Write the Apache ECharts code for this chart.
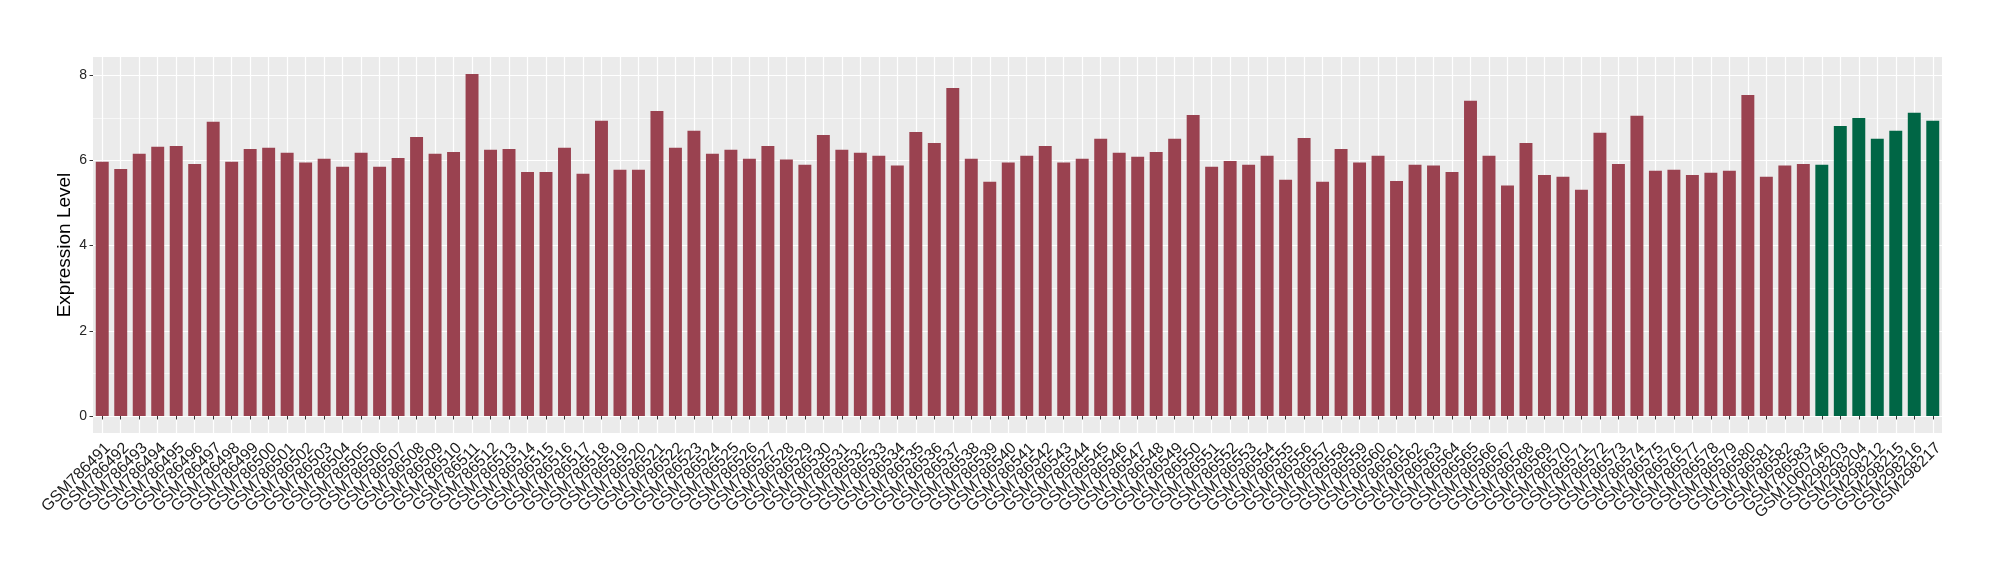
<!DOCTYPE html>
<html><head><meta charset="utf-8">
<script src="https://cdn.jsdelivr.net/npm/echarts@6/dist/echarts.min.js"></script>
<style>html,body{margin:0;padding:0;background:#fff}#c{width:2000px;height:580px}</style>
</head><body><div id="c"></div>
<script>
const redSamples = [
'GSM786491','GSM786492','GSM786493','GSM786494','GSM786495','GSM786496','GSM786497','GSM786498','GSM786499','GSM786500',
'GSM786501','GSM786502','GSM786503','GSM786504','GSM786505','GSM786506','GSM786507','GSM786508','GSM786509','GSM786510',
'GSM786511','GSM786512','GSM786513','GSM786514','GSM786515','GSM786516','GSM786517','GSM786518','GSM786519','GSM786520',
'GSM786521','GSM786522','GSM786523','GSM786524','GSM786525','GSM786526','GSM786527','GSM786528','GSM786529','GSM786530',
'GSM786531','GSM786532','GSM786533','GSM786534','GSM786535','GSM786536','GSM786537','GSM786538','GSM786539','GSM786540',
'GSM786541','GSM786542','GSM786543','GSM786544','GSM786545','GSM786546','GSM786547','GSM786548','GSM786549','GSM786550',
'GSM786551','GSM786552','GSM786553','GSM786554','GSM786555','GSM786556','GSM786557','GSM786558','GSM786559','GSM786560',
'GSM786561','GSM786562','GSM786563','GSM786564','GSM786565','GSM786566','GSM786567','GSM786568','GSM786569','GSM786570',
'GSM786571','GSM786572','GSM786573','GSM786574','GSM786575','GSM786576','GSM786577','GSM786578','GSM786579','GSM786580',
'GSM786581','GSM786582','GSM786583'];
const greenSamples = ['GSM1060746','GSM298203','GSM298204','GSM298212','GSM298215','GSM298216','GSM298217'];

const redValues = [
5.97,5.80,6.16,6.32,6.34,5.92,6.91,5.97,6.27,6.30,
6.18,5.95,6.04,5.85,6.18,5.85,6.06,6.55,6.16,6.20,
8.03,6.25,6.27,5.73,5.73,6.30,5.69,6.93,5.78,5.78,
7.16,6.30,6.70,6.16,6.25,6.04,6.34,6.02,5.90,6.60,
6.25,6.18,6.11,5.88,6.67,6.41,7.70,6.04,5.50,5.95,
6.11,6.34,5.95,6.04,6.51,6.18,6.09,6.20,6.51,7.07,
5.85,5.99,5.90,6.11,5.55,6.53,5.50,6.27,5.95,6.11,
5.52,5.90,5.88,5.73,7.40,6.11,5.41,6.41,5.66,5.62,
5.31,6.65,5.92,7.05,5.76,5.78,5.66,5.71,5.76,7.54,
5.62,5.88,5.92];
const greenValues = [5.90,6.81,7.00,6.51,6.70,7.12,6.93];

const yTicks = [0, 2, 4, 6, 8];
const yMinorTicks = [1, 3, 5, 7];

const RED = '#9A4250';
const GREEN = '#006645';
const FONT = '"Liberation Sans", Arial, Helvetica, sans-serif';

const categories = redSamples.concat(greenSamples);
const barData = redValues.map(v => ({value: v, itemStyle: {color: RED}}))
  .concat(greenValues.map(v => ({value: v, itemStyle: {color: GREEN}})));

const chart = echarts.init(document.getElementById('c'), null, {renderer: 'canvas'});
chart.setOption({
  animation: false,
  backgroundColor: '#ffffff',
  textStyle: {fontFamily: FONT},
  grid: {left: 93, right: 58, top: 57, bottom: 147, show: true, backgroundColor: '#EBEBEB', borderWidth: 0, containLabel: false},
  xAxis: {
    type: 'category', data: categories, boundaryGap: true,
    axisLine: {show: false},
    axisTick: {show: true, alignWithLabel: true, interval: 0, length: 3.5, lineStyle: {color: '#333', width: 1}},
    axisLabel: {interval: 0, rotate: 45, fontSize: 16, margin: 7, color: '#1a1a1a', fontFamily: FONT,
                align: 'right', verticalAlign: 'top'},
    splitLine: {show: true, alignWithLabel: true, interval: 0, lineStyle: {color: '#ffffff', width: 1.2}}
  },
  yAxis: [{
    type: 'value', min: -0.4, max: 8.43,
    axisLine: {show: false},
    axisTick: {show: true, length: 3.5, lineStyle: {color: '#333', width: 1}, customValues: yTicks},
    axisLabel: {customValues: yTicks, fontSize: 14, margin: 6, color: '#262626', fontFamily: FONT},
    splitLine: {show: true, lineStyle: {color: '#ffffff', width: 1.2}},
    name: 'Expression Level', nameLocation: 'middle', nameGap: 19, nameMoveOverlap: false,
    nameTextStyle: {fontSize: 19, color: '#000', fontFamily: FONT}
  }, {
    type: 'value', min: -0.4, max: 8.43, position: 'left',
    axisLine: {show: false},
    axisTick: {show: false, customValues: yMinorTicks},
    axisLabel: {show: false, customValues: yMinorTicks},
    splitLine: {show: true, lineStyle: {color: '#ffffff', width: 0.6}}
  }],
  series: [{
    type: 'bar', data: barData, barWidth: '70%', xAxisIndex: 0, yAxisIndex: 0
  }]
});
</script>
</body></html>
